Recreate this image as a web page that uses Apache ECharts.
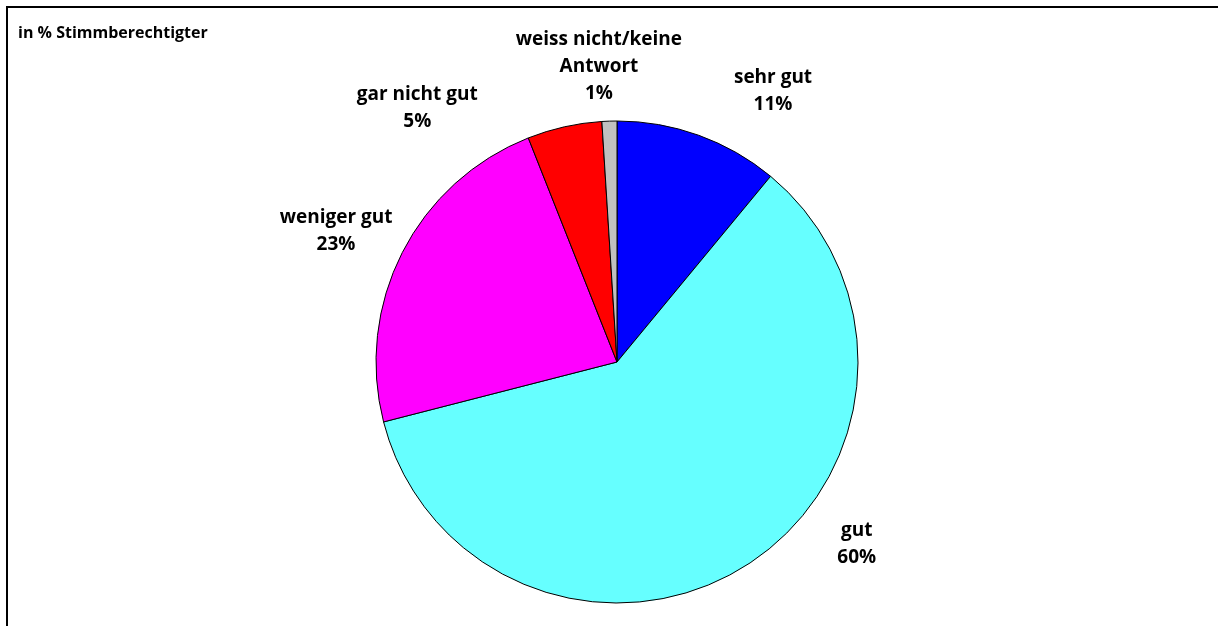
<!DOCTYPE html>
<html>
<head>
<meta charset="utf-8">
<script src="https://cdn.jsdelivr.net/npm/echarts@6/dist/echarts.min.js"></script>
<style>
html,body{margin:0;padding:0;background:#fff;}
#chart{width:1218px;height:626px;}
</style>
</head>
<body>
<div id="chart"></div>
<script>
// ---- data ----
const categories = ['sehr gut', 'gut', 'weniger gut', 'gar nicht gut', 'weiss nicht/keine\nAntwort'];
const values = [11, 60, 23, 5, 1];
const unitNote = 'in % Stimmberechtigter';

// ---- styles / layout ----
const colors = ['#0000FF', '#66FFFF', '#FF00FF', '#FF0000', '#C0C0C0'];
const centerX = 617, centerY = 362, radius = 241;
// label anchor: [angle clockwise from 12 o'clock in degrees, distance from centre]
const labelSpots = [[29.9, 313], [127.2, 301], [295.0, 310], [321.8, 323], [356.5, 296]];
const fontFamily = '"Open Sans", "DejaVu Sans", sans-serif';

const chart = echarts.init(document.getElementById('chart'), null, {renderer: 'canvas'});

chart.setOption({
  animation: false,
  backgroundColor: '#fff',
  title: {
    text: unitNote,
    left: 13,
    top: 20,
    textStyle: {fontFamily: fontFamily, fontSize: 16, fontWeight: 'bold', color: '#000'}
  },
  graphic: [
    {type: 'line', shape: {x1: 6, y1: 7, x2: 1218, y2: 7}, style: {stroke: '#000', lineWidth: 2}},
    {type: 'line', shape: {x1: 7, y1: 6, x2: 7, y2: 626}, style: {stroke: '#000', lineWidth: 2}}
  ],
  series: [{
    type: 'pie',
    center: [centerX, centerY],
    radius: radius,
    startAngle: 90,
    clockwise: true,
    avoidLabelOverlap: false,
    itemStyle: {borderColor: '#000', borderWidth: 1},
    label: {
      show: true,
      position: 'outside',
      formatter: p => p.name + '\n' + Math.round(p.value) + '%',
      fontFamily: fontFamily,
      fontSize: 19,
      fontWeight: 'bold',
      color: '#000',
      lineHeight: 27,
      align: 'center'
    },
    labelLine: {show: false},
    labelLayout: function (params) {
      const s = labelSpots[params.dataIndex];
      const a = s[0] * Math.PI / 180;
      return {
        x: centerX + s[1] * Math.sin(a),
        y: centerY - s[1] * Math.cos(a),
        align: 'center',
        verticalAlign: 'middle'
      };
    },
    emphasis: {disabled: true},
    data: categories.map((c, i) => ({name: c, value: values[i], itemStyle: {color: colors[i]}}))
  }]
});
</script>
</body>
</html>
